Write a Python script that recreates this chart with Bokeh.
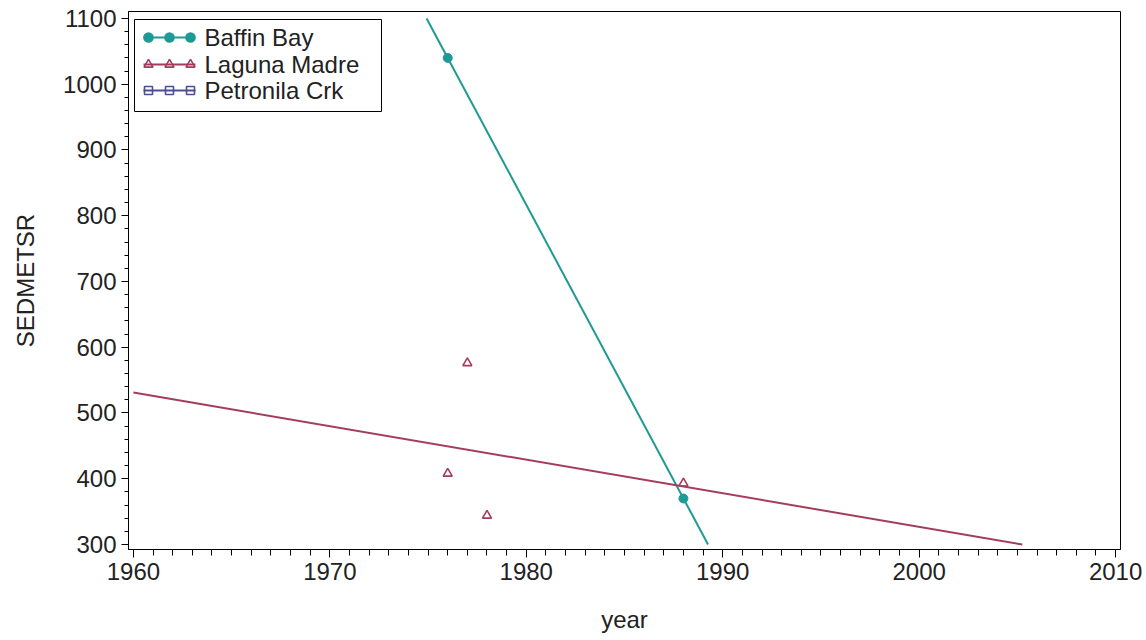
import numpy as np
from bokeh.plotting import figure
from bokeh.models import Range1d, FixedTicker, BoxAnnotation
from bokeh.core.properties import value
from bokeh.embed import file_html
from bokeh.resources import INLINE

# ---- data ----
baffin_year = [1976, 1988]
baffin_sed = [1040, 370]
laguna_year = [1976, 1977, 1978, 1988]
laguna_sed = [408, 576, 344, 393]
petronila_year = []
petronila_sed = []

series_names = ["Baffin Bay", "Laguna Madre", "Petronila Crk"]

x_major = [1960, 1970, 1980, 1990, 2000, 2010]
y_major = [300, 400, 500, 600, 700, 800, 900, 1000, 1100]
x_minor = list(range(1960, 2011, 1))
y_minor = list(range(300, 1101, 20))

X_LO, X_HI = 1960, 2010
Y_LO, Y_HI = 300, 1100

# ---- style ----
BAFFIN_C = "#1E9A94"
LAGUNA_C = "#A43D5C"
PETRO_C = "#4E4E98"
FONT = "Liberation Sans"
TXT = "#222222"

W, H = 1146, 640
FL, FR, FT, FB = 128, 1120, 11, 549   # frame edges in pixels
XR = (1959.75, 2010.25)
YR = (292.4, 1110.6)


def fit_segment(xs, ys):
    if len(xs) < 2:
        return [], []
    m, b = np.polyfit(np.array(xs, float), np.array(ys, float), 1)
    lo, hi = X_LO, X_HI
    if m != 0:
        xa = (Y_LO - b) / m
        xb = (Y_HI - b) / m
        lo = max(lo, min(xa, xb))
        hi = min(hi, max(xa, xb))
    return [lo, hi], [m * lo + b, m * hi + b]


# pixel -> data helpers (used only for the legend layout)
def px2x(px):
    return XR[0] + (px - FL) / (FR - FL) * (XR[1] - XR[0])


def py2y(py):
    return YR[1] - (py - FT) / (FB - FT) * (YR[1] - YR[0])


p = figure(width=W, height=H,
           x_range=Range1d(*XR), y_range=Range1d(*YR),
           output_backend="svg", toolbar_location=None,
           min_border_left=FL, min_border_right=W - FR,
           min_border_top=FT, min_border_bottom=H - FB)

p.xgrid.visible = False
p.ygrid.visible = False
p.outline_line_color = "black"
p.outline_line_width = 1
p.outline_line_alpha = 1

p.xaxis.ticker = FixedTicker(ticks=x_major, minor_ticks=x_minor)
p.yaxis.ticker = FixedTicker(ticks=y_major, minor_ticks=y_minor)

for ax in (p.xaxis[0], p.yaxis[0]):
    ax.axis_line_color = "black"
    ax.major_tick_line_color = "black"
    ax.minor_tick_line_color = "black"
    ax.major_tick_in = 0
    ax.minor_tick_in = 0
    ax.major_label_text_font = FONT
    ax.major_label_text_font_size = "24px"
    ax.major_label_text_color = TXT
    ax.axis_label_text_font = FONT
    ax.axis_label_text_font_size = "24px"
    ax.axis_label_text_font_style = "normal"
    ax.axis_label_text_color = TXT

p.xaxis.major_tick_out = 8
p.xaxis.minor_tick_out = 6
p.yaxis.major_tick_out = 7
p.yaxis.minor_tick_out = 4
p.xaxis.major_label_standoff = 5
p.yaxis.major_label_standoff = 5

p.xaxis.axis_label = "year"
p.yaxis.axis_label = "SEDMETSR"
p.xaxis.axis_label_standoff = 23
p.yaxis.axis_label_standoff = 21

# Baffin Bay
bx, by = fit_segment(baffin_year, baffin_sed)
p.line(bx, by, line_color=BAFFIN_C, line_width=2)
p.scatter(baffin_year, baffin_sed, marker="circle", size=9,
          fill_color=BAFFIN_C, line_color=BAFFIN_C)

# Laguna Madre
lx, ly = fit_segment(laguna_year, laguna_sed)
p.line(lx, ly, line_color=LAGUNA_C, line_width=2)
p.scatter(laguna_year, laguna_sed, marker="triangle", size=9,
          fill_color=None, line_color=LAGUNA_C, line_width=1.6)

# Petronila Crk (no observations in view)
qx, qy = fit_segment(petronila_year, petronila_sed)
if qx:
    p.line(qx, qy, line_color=PETRO_C, line_width=2)
if petronila_year:
    p.scatter(petronila_year, petronila_sed, marker="square", size=8,
              fill_color=None, line_color=PETRO_C, line_width=1.5)

# ---- legend (drawn by hand so each entry shows line + three markers) ----
p.add_layout(BoxAnnotation(left=px2x(134), right=px2x(381),
                           top=py2y(19), bottom=py2y(111),
                           fill_color="white", fill_alpha=1,
                           line_color="black", line_width=1, line_alpha=1,
                           level="annotation"))

leg_colors = [BAFFIN_C, LAGUNA_C, PETRO_C]
leg_markers = ["circle", "triangle", "square"]
leg_fill = [BAFFIN_C, None, None]
leg_size = [9, 9, 8]
row_y = [37, 64, 90]
for i, name in enumerate(series_names):
    yy = py2y(row_y[i])
    p.line([px2x(143), px2x(195)], [yy, yy], line_color=leg_colors[i],
           line_width=2, level="overlay")
    p.scatter([px2x(148), px2x(169), px2x(190)], [yy] * 3,
              marker=leg_markers[i], size=leg_size[i],
              fill_color=leg_fill[i], line_color=leg_colors[i],
              line_width=1.6, level="overlay")
    p.text([px2x(204)], [yy], text=[name], text_font=value(FONT),
           text_font_size="24px", text_color=TXT,
           text_baseline="middle", text_align="left", level="overlay")

open("out.html", "w").write(file_html(p, INLINE))
